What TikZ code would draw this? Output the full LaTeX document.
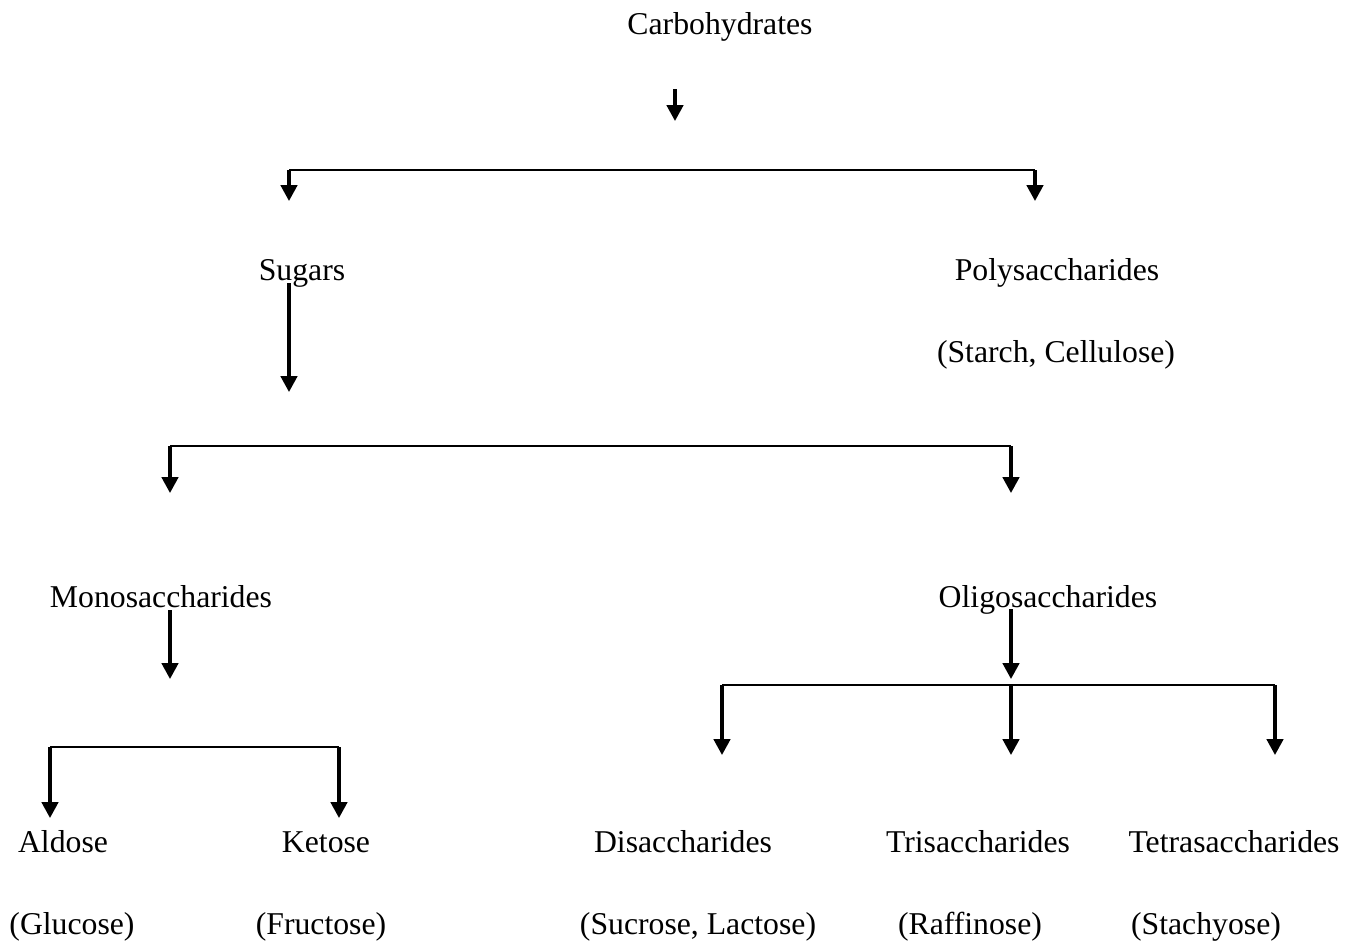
\documentclass[tikz,border=0pt]{standalone}
\usepackage{fontspec}
\setmainfont{Liberation Serif}
\usepackage{tikz}
\usetikzlibrary{arrows.meta}
\tikzset{
  downarr/.style = {-{Triangle[length=6pt,width=6.2pt]},line width=1.2pt},
  barline/.style = {line width=0.9pt},
  label/.style   = {inner sep=0pt,anchor=base,font=\fontsize{11.9}{14}\selectfont}
}

\begin{document}
\begin{tikzpicture}[x=0.375pt,y=-0.375pt]
  \useasboundingbox (0,0) rectangle (1358,942);
  % labels
  \node[label] (carb)   at (720,34)  {Carbohydrates};
  \node[label] (sug)    at (302,280) {Sugars};
  \node[label] (poly)   at (1057,280) {Polysaccharides};
  \node[label] (polyex) at (1056,362) {(Starch, Cellulose)};
  \node[label] (mono)   at (161,607) {Monosaccharides};
  \node[label] (oligo)  at (1048,607) {Oligosaccharides};
  \node[label] (ald)    at (63,852)  {Aldose};
  \node[label] (ket)    at (326,852) {Ketose};
  \node[label] (di)     at (683,852) {Disaccharides};
  \node[label] (tri)    at (978,852) {Trisaccharides};
  \node[label] (tetra)  at (1234,852) {Tetrasaccharides};
  \node[label] (glu)    at (72,934)  {(Glucose)};
  \node[label] (fru)    at (321,934) {(Fructose)};
  \node[label] (sucr)   at (698,934) {(Sucrose, Lactose)};
  \node[label] (raff)   at (970,934) {(Raffinose)};
  \node[label] (stach)  at (1206,934) {(Stachyose)};
  % bar ends and arrow tips
  \coordinate (c0) at (675,89);   \coordinate (c1) at (675,121);
  \coordinate (b1l) at (289,170); \coordinate (b1r) at (1035,170);
  \coordinate (t1l) at (289,201); \coordinate (t1r) at (1035,201);
  \coordinate (s0) at (289,283);  \coordinate (s1) at (289,392);
  \coordinate (b2l) at (170,446); \coordinate (b2r) at (1011,446);
  \coordinate (t2l) at (170,493); \coordinate (t2r) at (1011,493);
  \coordinate (m0) at (170,610);  \coordinate (m1) at (170,679);
  \coordinate (o0) at (1011,609); \coordinate (o1) at (1011,679);
  \coordinate (b3l) at (722,685); \coordinate (b3m) at (1011,685); \coordinate (b3r) at (1275,685);
  \coordinate (t3l) at (722,755); \coordinate (t3m) at (1011,755); \coordinate (t3r) at (1275,755);
  \coordinate (b4l) at (50,747);  \coordinate (b4r) at (339,747);
  \coordinate (t4l) at (50,818);  \coordinate (t4r) at (339,818);
  % connectors
  \draw[downarr] (c0) -- (c1);
  \draw[barline] (b1l) -- (b1r);
  \draw[downarr] (b1l) -- (t1l);
  \draw[downarr] (b1r) -- (t1r);
  \draw[downarr] (s0) -- (s1);
  \draw[barline] (b2l) -- (b2r);
  \draw[downarr] (b2l) -- (t2l);
  \draw[downarr] (b2r) -- (t2r);
  \draw[downarr] (m0) -- (m1);
  \draw[downarr] (o0) -- (o1);
  \draw[barline] (b3l) -- (b3r);
  \draw[downarr] (b3l) -- (t3l);
  \draw[downarr] (b3m) -- (t3m);
  \draw[downarr] (b3r) -- (t3r);
  \draw[barline] (b4l) -- (b4r);
  \draw[downarr] (b4l) -- (t4l);
  \draw[downarr] (b4r) -- (t4r);
\end{tikzpicture}
\end{document}
